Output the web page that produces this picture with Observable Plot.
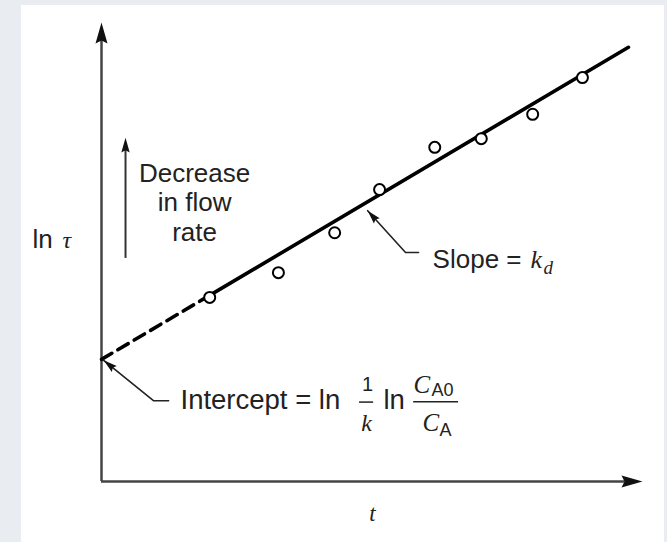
<!DOCTYPE html>
<html>
<head>
<meta charset="utf-8">
<script src="https://cdn.jsdelivr.net/npm/d3@7"></script>
<script src="https://cdn.jsdelivr.net/npm/@observablehq/plot@0.6"></script>
<style>
  html, body { margin: 0; padding: 0; background: #e9ecf0; }
  #panel { position: absolute; left: 21px; top: 5px; width: 643px; height: 537px; background: #ffffff; }
  #chart { position: absolute; left: 0; top: 0; }
</style>
</head>
<body>
<div id="panel"></div>
<div id="chart"></div>
<script>
// ---- data (in arbitrary axis units 0..10) ----
const tValues      = [2.00, 3.27, 4.31, 5.14, 6.16, 7.02, 7.97, 8.89];
const lnTauValues  = [4.01, 4.55, 5.42, 6.36, 7.28, 7.47, 8.00, 8.80];
const fitDashedT   = [0, 1.92];
const fitDashedLn  = [2.66, 4.00];
const fitSolidT    = [1.92, 9.74];
const fitSolidLn   = [4.00, 9.46];
const yAxisLabel   = ["ln", "τ"];
const xAxisLabel   = "t";
const flowLabel    = "Decrease\nin flow\nrate";
const slopeLabel   = ["Slope = ", "k", "d"];
const interceptLabel = ["Intercept = ln", "1", "k", "ln", "C", "A0", "C", "A"];

const points = tValues.map((t, i) => ({t, v: lnTauValues[i]}));
const dashed = fitDashedT.map((t, i) => ({t, v: fitDashedLn[i]}));
const solid  = fitSolidT.map((t, i) => ({t, v: fitSolidLn[i]}));

// filled arrowhead symbol, tip at the anchor, pointing up (rotate to aim)
const arrowHead = {
  draw(ctx, size) {
    const r = Math.sqrt(size / Math.PI);
    ctx.moveTo(0, 0);
    ctx.lineTo(0.6 * r, 2.1 * r);
    ctx.lineTo(0, 1.8 * r);
    ctx.lineTo(-0.6 * r, 2.1 * r);
    ctx.closePath();
  }
};

const SANS = "'Liberation Sans', Arial, Helvetica, sans-serif";
const SERIF = "'Liberation Serif', 'Times New Roman', serif";
const INK = "#222";
const FS = 26;

const chart = Plot.plot({
  width: 667,
  height: 542,
  marginLeft: 101,
  marginRight: 25,
  marginTop: 22,
  marginBottom: 61,
  x: {domain: [0, 10], axis: null},
  y: {domain: [0, 10], axis: null},
  style: {background: "transparent", overflow: "visible"},
  marks: [
    // axes
    Plot.ruleX([0], {y1: 0, y2: 9.65, stroke: "#444", strokeWidth: 2.5}),
    Plot.ruleY([0], {x1: 0, x2: 9.68, stroke: "#444", strokeWidth: 2.5}),
    Plot.dot([{t: 0, v: 10}], {x: "t", y: "v", symbol: arrowHead, r: 10, fill: "#111", stroke: "none"}),
    Plot.dot([{t: 10, v: 0}], {x: "t", y: "v", symbol: arrowHead, r: 10, rotate: 90, fill: "#111", stroke: "none"}),

    // fitted line
    Plot.line(dashed, {x: "t", y: "v", stroke: "black", strokeWidth: 3.6, strokeDasharray: "12,7"}),
    Plot.line(solid, {x: "t", y: "v", stroke: "black", strokeWidth: 3.6}),

    // data points
    Plot.dot(points, {x: "t", y: "v", r: 5.5, stroke: "black", strokeWidth: 2, fill: "white"}),

    // "Decrease in flow rate" arrow
    Plot.ruleX([0.444], {y1: 4.86, y2: 7.25, stroke: "#333", strokeWidth: 2}),
    Plot.dot([{t: 0.444, v: 7.49}], {x: "t", y: "v", symbol: arrowHead, r: 7, fill: "#111", stroke: "none"}),
    Plot.text([flowLabel], {x: 1.72, y: 5.25, text: d => d, fontSize: FS, fontFamily: SANS, fill: INK, lineAnchor: "bottom", lineHeight: 1.13, textAnchor: "middle"}),

    // y axis label
    Plot.text([yAxisLabel[0]], {x: -1.275, y: 5.08, text: d => d, fontSize: FS, fontFamily: SANS, fill: INK, textAnchor: "start", lineAnchor: "bottom"}),
    Plot.text([yAxisLabel[1]], {x: -0.72, y: 5.08, text: d => d, fontSize: 24, fontFamily: SERIF, fontStyle: "italic", fill: INK, textAnchor: "start", lineAnchor: "bottom"}),

    // x axis label
    Plot.text([xAxisLabel], {x: 5.01, y: -0.85, text: d => d, fontSize: 23, fontFamily: SERIF, fontStyle: "italic", fill: INK, textAnchor: "middle", lineAnchor: "bottom"}),

    // slope leader
    Plot.line([{t: 4.92, v: 5.90}, {t: 5.62, v: 4.99}, {t: 5.86, v: 4.99}], {x: "t", y: "v", stroke: "#222", strokeWidth: 1.6}),
    Plot.dot([{t: 4.92, v: 5.90}], {x: "t", y: "v", symbol: arrowHead, r: 6.5, rotate: -42, fill: "#111", stroke: "none"}),
    Plot.text([slopeLabel[0]], {x: 6.12, y: 4.66, text: d => d, fontSize: FS, fontFamily: SANS, fill: INK, textAnchor: "start", lineAnchor: "bottom"}),
    Plot.text([slopeLabel[1]], {x: 6.12, y: 4.66, dx: 98, text: d => d, fontSize: FS, fontFamily: SERIF, fontStyle: "italic", fill: INK, textAnchor: "start", lineAnchor: "bottom"}),
    Plot.text([slopeLabel[2]], {x: 6.12, y: 4.66, dx: 111, dy: 6, text: d => d, fontSize: 19, fontFamily: SERIF, fontStyle: "italic", fill: INK, textAnchor: "start", lineAnchor: "bottom"}),

    // intercept leader
    Plot.line([{t: 0.04, v: 2.64}, {t: 0.96, v: 1.76}, {t: 1.24, v: 1.76}], {x: "t", y: "v", stroke: "#222", strokeWidth: 1.6}),
    Plot.dot([{t: 0.04, v: 2.64}], {x: "t", y: "v", symbol: arrowHead, r: 6.5, rotate: -51, fill: "#111", stroke: "none"}),
    Plot.text([interceptLabel[0]], {x: 1.46, y: 1.59, text: d => d, fontSize: 27.5, fontFamily: SANS, fill: INK, textAnchor: "start", lineAnchor: "bottom"}),
    // 1/k
    Plot.text([interceptLabel[1]], {x: 1.46, y: 1.59, dx: 187, dy: -18, text: d => d, fontSize: 20, fontFamily: SANS, fill: INK, textAnchor: "middle", lineAnchor: "bottom"}),
    Plot.ruleY([1.73], {x1: 4.77, x2: 5.03, stroke: INK, strokeWidth: 1.5}),
    Plot.text([interceptLabel[2]], {x: 1.46, y: 1.59, dx: 186, dy: 22, text: d => d, fontSize: 24, fontFamily: SERIF, fontStyle: "italic", fill: INK, textAnchor: "middle", lineAnchor: "bottom"}),
    // ln
    Plot.text([interceptLabel[3]], {x: 1.46, y: 1.59, dx: 203, text: d => d, fontSize: 27.5, fontFamily: SANS, fill: INK, textAnchor: "start", lineAnchor: "bottom"}),
    // C_A0 / C_A
    Plot.text([interceptLabel[4]], {x: 1.46, y: 1.59, dx: 233, dy: -16, text: d => d, fontSize: 25, fontFamily: SERIF, fontStyle: "italic", fill: INK, textAnchor: "start", lineAnchor: "bottom"}),
    Plot.text([interceptLabel[5]], {x: 1.46, y: 1.59, dx: 251, dy: -13, text: d => d, fontSize: 18, fontFamily: SANS, fill: INK, textAnchor: "start", lineAnchor: "bottom"}),
    Plot.ruleY([1.74], {x1: 5.77, x2: 6.60, stroke: INK, strokeWidth: 1.5}),
    Plot.text([interceptLabel[6]], {x: 1.46, y: 1.59, dx: 242, dy: 22, text: d => d, fontSize: 25, fontFamily: SERIF, fontStyle: "italic", fill: INK, textAnchor: "start", lineAnchor: "bottom"}),
    Plot.text([interceptLabel[7]], {x: 1.46, y: 1.59, dx: 259, dy: 27, text: d => d, fontSize: 18, fontFamily: SANS, fill: INK, textAnchor: "start", lineAnchor: "bottom"})
  ]
});

document.getElementById("chart").appendChild(chart);
</script>
</body>
</html>
